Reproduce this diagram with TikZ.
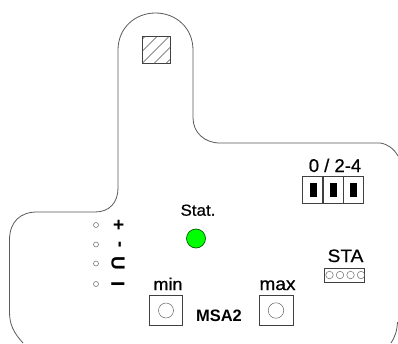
\documentclass[tikz,border=0pt]{standalone}
\usepackage{fontspec}
\setmainfont{Liberation Sans}
\newfontfamily\lblA[FakeBold=0.6,FakeStretch=1.06]{Liberation Sans}
\newfontfamily\lblB[FakeBold=0.6,FakeStretch=1.0]{Liberation Sans}
\begin{document}
\begin{tikzpicture}[x=1pt,y=-1pt,
  outline/.style={draw=black!65,line width=0.8pt},
  part/.style={draw=black!75,line width=0.7pt,inner sep=0pt,outer sep=0pt},
  squarebox/.style={part,rectangle,minimum width=#1,minimum height=30pt},
  ring/.style={draw=black!60,line width=0.5pt,circle,inner sep=0pt,minimum size=#1},
  jumper/.style={part,rectangle,minimum width=20pt,minimum height=27pt},
  jumperbar/.style={fill=black,rectangle,inner sep=0pt,minimum width=7.5pt,minimum height=14pt},
  lbl/.style={inner sep=0pt,anchor=base,font=\lblA\fontsize{#1}{#1}\selectfont},
  lblb/.style={inner sep=0pt,anchor=base,font=\lblB\fontsize{#1}{#1}\selectfont},
  sym/.style={inner sep=0pt,font=\fontsize{19}{19}\selectfont\bfseries,rotate=-90}]
\useasboundingbox (0,0) rectangle (398,343);
% housing outline
\draw[outline] (23,343) .. controls (14,333) and (9.5,325) .. (9.5,312)
  -- (9.5,240) .. controls (9.5,222) and (20,212) .. (37,212)
  -- (95,212) .. controls (110,212) and (118,202) .. (118,188)
  -- (118,50) .. controls (118,28) and (135,13) .. (155.5,13)
  .. controls (176,13) and (193,28) .. (193,50)
  -- (193,118) .. controls (193,132) and (204,143) .. (220,143)
  -- (380,143) .. controls (388,144) and (394,149) .. (398,156);
\draw[outline] (397.5,322) .. controls (397,331) and (395,337) .. (391,343);
% hatched square
\node[part,rectangle,minimum width=28pt,minimum height=27.5pt] (hatch) at (156,49.75) {};
\begin{scope}
  \clip (hatch.north west) rectangle (hatch.south east);
  \foreach \d in {-24,-12,...,24}
    \draw[black!70,line width=0.5pt] (142+\d-10,63.5+10) -- (142+\d+30,63.5-30);
\end{scope}
% jumper block
\node[lblb=18.5] (jlabel) at (335,172) {0 / 2-4};
\node[jumper] (j1) at (312.8,189.5) {};
\node[jumper] (j2) at (333,189.5) {};
\node[jumper] (j3) at (353.5,189.5) {};
\node[jumperbar] (b1) at (313.3,190) {};
\node[jumperbar] (b2) at (333.5,190) {};
\node[jumperbar] (b3) at (353.5,190) {};
% status LED
\node[lbl=16] (stat) at (198,215.7) {Stat.};
\node[circle,fill=green,draw=black!65!green,line width=0.7pt,minimum size=19pt,inner sep=0pt] (led) at (196,238.5) {};
% terminal holes
\foreach \n/\y in {a/225,b/244.5,c/263.5,d/284}
  \node[ring=5pt] (h\n) at (96,\y) {};
\node[sym] (splus) at (118,225.5) {+};
\node[sym] (sminus) at (118,244.5) {-};
\node[sym] (su) at (118,263.5) {U};
\node[sym] (si) at (118,284) {I};
% buttons
\node[lbl=17] (minl) at (168,290) {min};
\node[squarebox=33.5pt] (minb) at (166,310.5) {};
\node[ring=15pt] (minc) at (166,310.5) {};
\node[lbl=18] (maxl) at (277.5,290) {max};
\node[squarebox=34pt] (maxb) at (276.3,310.5) {};
\node[ring=15.5pt] (maxc) at (276,310.5) {};
\node[inner sep=0pt,anchor=base,font=\fontsize{16.5}{16.5}\selectfont\bfseries] (msa) at (219,321) {MSA2};
% STA connector
\node[lbl=18] (sta) at (345.5,262) {STA};
\node[part,rectangle,minimum width=40.5pt,minimum height=14pt] (stab) at (344.5,275) {};
\foreach \n/\x in {a/329.5,b/340,c/350.5,d/361}
  \node[ring=7.5pt] (p\n) at (\x,275) {};
\end{tikzpicture}
\end{document}
